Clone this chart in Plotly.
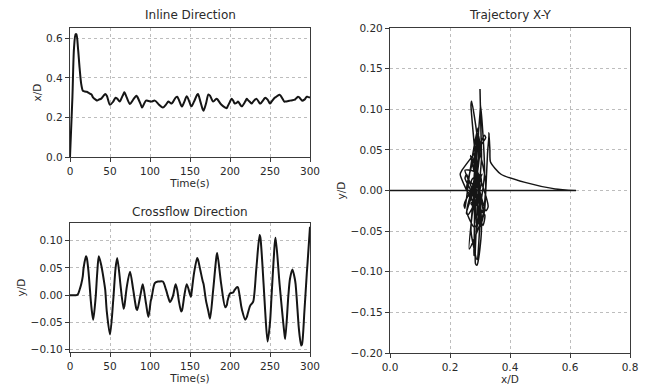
import plotly.graph_objects as go

# Time samples (s) with inline (x/D) and crossflow (y/D) responses
time_s = [0, 3, 5, 7, 8, 10, 12, 14, 16, 17, 20, 21, 23, 26, 27, 29, 32, 34, 36, 39,
          42, 44, 46, 50, 54, 57, 59, 62, 63, 67, 68, 71, 75, 79, 83, 84, 88, 90, 91, 95,
          98, 101, 102, 106, 110, 111, 116, 120, 123, 125, 127, 129, 132, 134, 136, 139, 140, 143, 146, 151,
          152, 155, 159, 160, 163, 166, 167, 170, 173, 175, 179, 183, 184, 189, 194, 196, 197, 200, 202, 204,
          206, 209, 210, 214, 215, 219, 221, 222, 225, 227, 229, 233, 237, 238, 242, 244, 247, 250, 252, 256,
          257, 262, 268, 269, 273, 275, 278, 281, 282, 285, 286, 289, 290, 293, 296, 297, 300]

inline_xD = [0, 0.30, 0.55, 0.62, 0.62, 0.55, 0.45, 0.37, 0.335, 0.333, 0.33, 0.33, 0.325, 0.318, 0.315, 0.30, 0.29, 0.285, 0.29, 0.295,
             0.31, 0.319, 0.31, 0.264, 0.28, 0.30, 0.295, 0.28, 0.285, 0.32, 0.327, 0.30, 0.268, 0.29, 0.31, 0.305, 0.27, 0.25, 0.255, 0.285,
             0.283, 0.28, 0.28, 0.285, 0.27, 0.265, 0.25, 0.265, 0.28, 0.275, 0.27, 0.28, 0.30, 0.305, 0.29, 0.26, 0.255, 0.28, 0.307, 0.26,
             0.256, 0.28, 0.315, 0.319, 0.28, 0.24, 0.234, 0.27, 0.316, 0.31, 0.28, 0.295, 0.293, 0.265, 0.25, 0.247, 0.255, 0.28, 0.295, 0.285,
             0.27, 0.276, 0.28, 0.258, 0.256, 0.28, 0.295, 0.29, 0.278, 0.27, 0.28, 0.295, 0.272, 0.27, 0.29, 0.30, 0.29, 0.27, 0.28, 0.30,
             0.302, 0.315, 0.28, 0.28, 0.283, 0.285, 0.287, 0.29, 0.293, 0.305, 0.303, 0.29, 0.285, 0.29, 0.305, 0.304, 0.30]

crossflow_yD = [0, 0, 0, 0, 0, 0.002, 0.01, 0.02, 0.035, 0.05, 0.071, 0.068, 0.045, -0.01, -0.025, -0.045, -0.005, 0.04, 0.071, 0.055,
                0.03, 0.01, -0.03, -0.072, -0.01, 0.05, 0.068, 0.035, 0.02, -0.025, -0.02, 0.015, 0.043, 0.01, -0.025, -0.027, 0.0, 0.015, 0.02, -0.015,
                -0.04, -0.01, -0.005, 0.022, 0.025, 0.025, 0.025, 0.01, -0.005, -0.013, -0.008, 0.0, 0.02, 0.01, -0.01, -0.03, -0.028, 0.0, 0.02, -0.003,
                0.005, 0.04, 0.068, 0.065, 0.045, 0.025, 0.02, -0.01, -0.03, -0.043, 0.01, 0.07, 0.077, 0.02, -0.022, -0.018, -0.01, 0.003, 0.004, 0.005,
                0.01, 0.015, 0.014, -0.02, -0.027, -0.045, -0.04, -0.035, -0.02, -0.016, -0.012, 0.05, 0.11, 0.105, 0.02, -0.03, -0.085, -0.05, 0.0, 0.095,
                0.105, 0.02, -0.07, -0.08, 0.0, 0.03, 0.047, 0.03, 0.02, -0.04, -0.06, -0.092, -0.09, -0.03, 0.04, 0.06, 0.125]

time_ticks = [0, 50, 100, 150, 200, 250, 300]
inline_ticks = [0.0, 0.2, 0.4, 0.6]
cross_ticks = [-0.10, -0.05, 0.00, 0.05, 0.10]
traj_x_ticks = [0.0, 0.2, 0.4, 0.6, 0.8]
traj_y_ticks = [-0.20, -0.15, -0.10, -0.05, 0.00, 0.05, 0.10, 0.15, 0.20]

# the page body has an 8px margin; positions below are given in window pixels
OFF = 8
W, H = 652 - OFF, 389 - OFF
def px_x(a, b):
    return [(a - OFF) / W, (b - OFF) / W]
def px_y(top, bottom):
    return [(H - (bottom - OFF)) / H, (H - (top - OFF)) / H]

LINE = "#151515"
FONT = "DejaVu Sans"
TXT = "#2a2a2a"

fig = go.Figure()
fig.add_trace(go.Scatter(x=time_s, y=inline_xD, mode="lines", line=dict(color=LINE, width=2, shape="spline", smoothing=0.8),
                         xaxis="x", yaxis="y", showlegend=False))
fig.add_trace(go.Scatter(x=time_s, y=crossflow_yD, mode="lines", line=dict(color=LINE, width=2, shape="spline", smoothing=0.8),
                         xaxis="x2", yaxis="y2", showlegend=False))
fig.add_trace(go.Scatter(x=inline_xD, y=crossflow_yD, mode="lines", line=dict(color=LINE, width=1.5, shape="spline", smoothing=0.6),
                         xaxis="x3", yaxis="y3", showlegend=False))

def axis(domain, rng, ticks, fmt, anchor, title=None, standoff=2):
    d = dict(domain=domain, range=rng, tickmode="array", tickvals=ticks, tickformat=fmt,
             showline=True, mirror=True, linecolor="#3a3a3a", linewidth=1.2,
             ticks="outside", ticklen=4, tickcolor="#3a3a3a", tickwidth=1,
             showgrid=True, gridcolor="#bdbdbd", griddash="dot", gridwidth=1,
             zeroline=False, anchor=anchor, automargin=False,
             tickfont=dict(size=10.5, color=TXT, family=FONT))
    if title:
        d["title"] = dict(text=title, font=dict(size=10.5, color=TXT, family=FONT), standoff=standoff)
    return d

def label(text, x, y, size=12):
    return dict(text=text, x=(x - OFF) / W, y=(H - (y - OFF)) / H, xref="paper", yref="paper", showarrow=False,
                xanchor="center", yanchor="middle", font=dict(size=size, color=TXT, family=FONT))

fig.update_layout(
    width=W, height=H, margin=dict(l=0, r=0, t=0, b=0, autoexpand=False),
    paper_bgcolor="white", plot_bgcolor="white",
    font=dict(family=FONT, color=TXT),
    xaxis=axis(px_x(70, 310), [0, 300], time_ticks, "d", "y", "Time(s)"),
    yaxis=axis(px_y(28, 157), [0, 0.652], inline_ticks, ".1f", "x", "x/D"),
    xaxis2=axis(px_x(70, 310), [0, 300], time_ticks, "d", "y2", "Time(s)"),
    yaxis2=axis(px_y(223, 352), [-0.104, 0.132], cross_ticks, ".2f", "x2", "y/D"),
    xaxis3=axis(px_x(390, 630), [0, 0.8], traj_x_ticks, ".1f", "y3", "x/D"),
    yaxis3=axis(px_y(28, 353), [-0.2, 0.2], traj_y_ticks, ".2f", "x3", "y/D"),
    annotations=[
        label("Inline Direction", 190, 15),
        label("Crossflow Direction", 190, 212),
        label("Trajectory X-Y", 510, 15),
    ],
)

fig.write_html("out.html")
